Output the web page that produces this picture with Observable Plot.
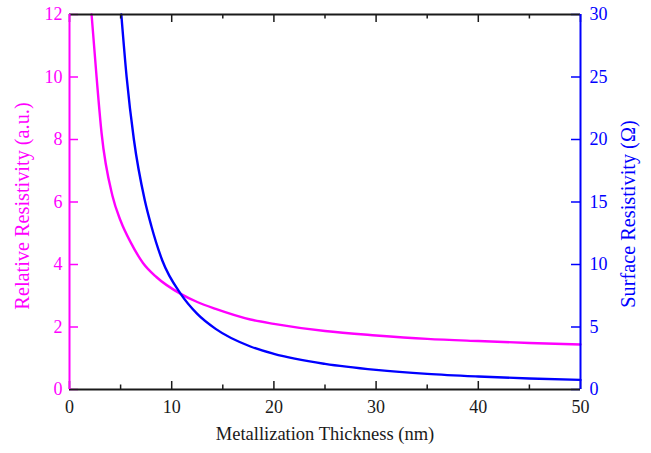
<!DOCTYPE html>
<html>
<head>
<meta charset="utf-8">
<script src="https://cdn.jsdelivr.net/npm/d3@7"></script>
<script src="https://cdn.jsdelivr.net/npm/@observablehq/plot@0.6"></script>
<style>
  html, body { margin: 0; padding: 0; background: #fff; }
  #chart { width: 651px; height: 453px; }
</style>
</head>
<body>
<div id="chart"></div>
<script>
// ---- data ----
const relThickness = [2.16, 2.65, 3.14, 4.2, 5, 6, 7.19, 8.5, 10.88, 12.5, 14.3, 17.7, 20, 25, 30, 35, 40, 45, 50];
const relResistivity = [12, 10, 8.2, 6.2, 5.4, 4.7, 4.05, 3.6, 3.06, 2.80, 2.58, 2.24, 2.10, 1.87, 1.73, 1.62, 1.55, 1.49, 1.44];

const surfThickness = [5.07, 5.59, 6.3, 7.35, 8, 9.09, 10.88, 12.5, 14.3, 17.7, 20, 25, 30, 35, 40, 45, 50];
const surfResistivity = [30, 25, 20, 15.2, 13.1, 10.3, 7.65, 6.05, 4.85, 3.44, 2.85, 2.05, 1.57, 1.25, 1.04, 0.88, 0.77];

const xMajorTicks = [0, 10, 20, 30, 40, 50];
const xMinorTicks = [5, 15, 25, 35, 45];
const leftTicks = [0, 2, 4, 6, 8, 10, 12];
const rightTicks = [0, 5, 10, 15, 20, 25, 30];

const xTitle = "Metallization Thickness (nm)";
const leftTitle = "Relative Resistivity (a.u.)";
const rightTitle = "Surface Resistivity (Ω)";

// ---- layout ----
const W = 651, H = 453;
const mL = 69, mR = 71, mT = 14, mB = 64;
const PW = W - mL - mR, PH = H - mT - mB;
const MAG = "#ff00ff", BLUE = "#0000ff", INK = "#1a1a1a";
const LEFT_MAX = 12, RIGHT_MAX = 30;
const toLeft = v => v * LEFT_MAX / RIGHT_MAX; // right axis mapped onto left y scale

const relData = relThickness.map((t, i) => ({t, v: relResistivity[i]}));
const surfData = surfThickness.map((t, i) => ({t, v: surfResistivity[i]}));

const chart = Plot.plot({
  width: W, height: H,
  marginLeft: mL, marginRight: mR, marginTop: mT, marginBottom: mB,
  style: {fontFamily: "'Liberation Serif', 'Times New Roman', serif", fontSize: "18px", background: "#fff", overflow: "visible"},
  x: {domain: [0, 50]},
  y: {domain: [0, LEFT_MAX]},
  marks: [
    // curves
    Plot.line(relData, {x: "t", y: "v", stroke: MAG, strokeWidth: 2.4, curve: "monotone-x"}),
    Plot.line(surfData, {x: "t", y: d => toLeft(d.v), stroke: BLUE, strokeWidth: 2.4, curve: "monotone-x"}),

    // inward ticks: bottom & top
    Plot.tickX(xMajorTicks, {x: d => d, stroke: INK, strokeWidth: 1.5, insetTop: PH - 8}),
    Plot.tickX(xMinorTicks, {x: d => d, stroke: INK, strokeWidth: 1.5, insetTop: PH - 4.5}),
    Plot.tickX(xMajorTicks, {x: d => d, stroke: INK, strokeWidth: 1.5, insetBottom: PH - 8}),
    Plot.tickX(xMinorTicks, {x: d => d, stroke: INK, strokeWidth: 1.5, insetBottom: PH - 4.5}),
    // inward ticks: left & right
    Plot.tickY(leftTicks, {y: d => d, stroke: MAG, strokeWidth: 1.5, insetRight: PW - 9}),
    Plot.tickY(rightTicks, {y: d => toLeft(d), stroke: BLUE, strokeWidth: 1.5, insetLeft: PW - 9}),

    // frame
    Plot.ruleY([0], {stroke: INK, strokeWidth: 2}),
    Plot.ruleY([LEFT_MAX], {stroke: INK, strokeWidth: 2}),
    Plot.ruleX([0], {stroke: MAG, strokeWidth: 2}),
    Plot.ruleX([50], {stroke: BLUE, strokeWidth: 2}),

    // tick labels via axes
    Plot.axisX(xMajorTicks, {anchor: "bottom", tickSize: 0, tickPadding: 11, fill: INK, fontSize: 18, label: null}),
    Plot.axisY(leftTicks, {anchor: "left", tickSize: 0, tickPadding: 7, fill: MAG, fontSize: 18, label: null}),
    Plot.axisY(rightTicks.map(toLeft), {anchor: "right", tickSize: 0, tickPadding: 9, fill: BLUE, fontSize: 18, label: null,
      tickFormat: d => String(Math.round(d * RIGHT_MAX / LEFT_MAX))}),

    // axis titles
    Plot.text([xTitle], {frameAnchor: "bottom", dy: 50, text: d => d, fill: INK, fontSize: 18.5, textAnchor: "middle"}),
    Plot.text([leftTitle], {frameAnchor: "left", dx: -47, dy: 4, rotate: -90, text: d => d, fill: MAG, fontSize: 20.3, textAnchor: "middle"}),
    Plot.text([rightTitle], {frameAnchor: "right", dx: 48, dy: 12, rotate: -90, text: d => d, fill: BLUE, fontSize: 20.3, textAnchor: "middle"})
  ]
});
document.getElementById("chart").appendChild(chart);
</script>
</body>
</html>
